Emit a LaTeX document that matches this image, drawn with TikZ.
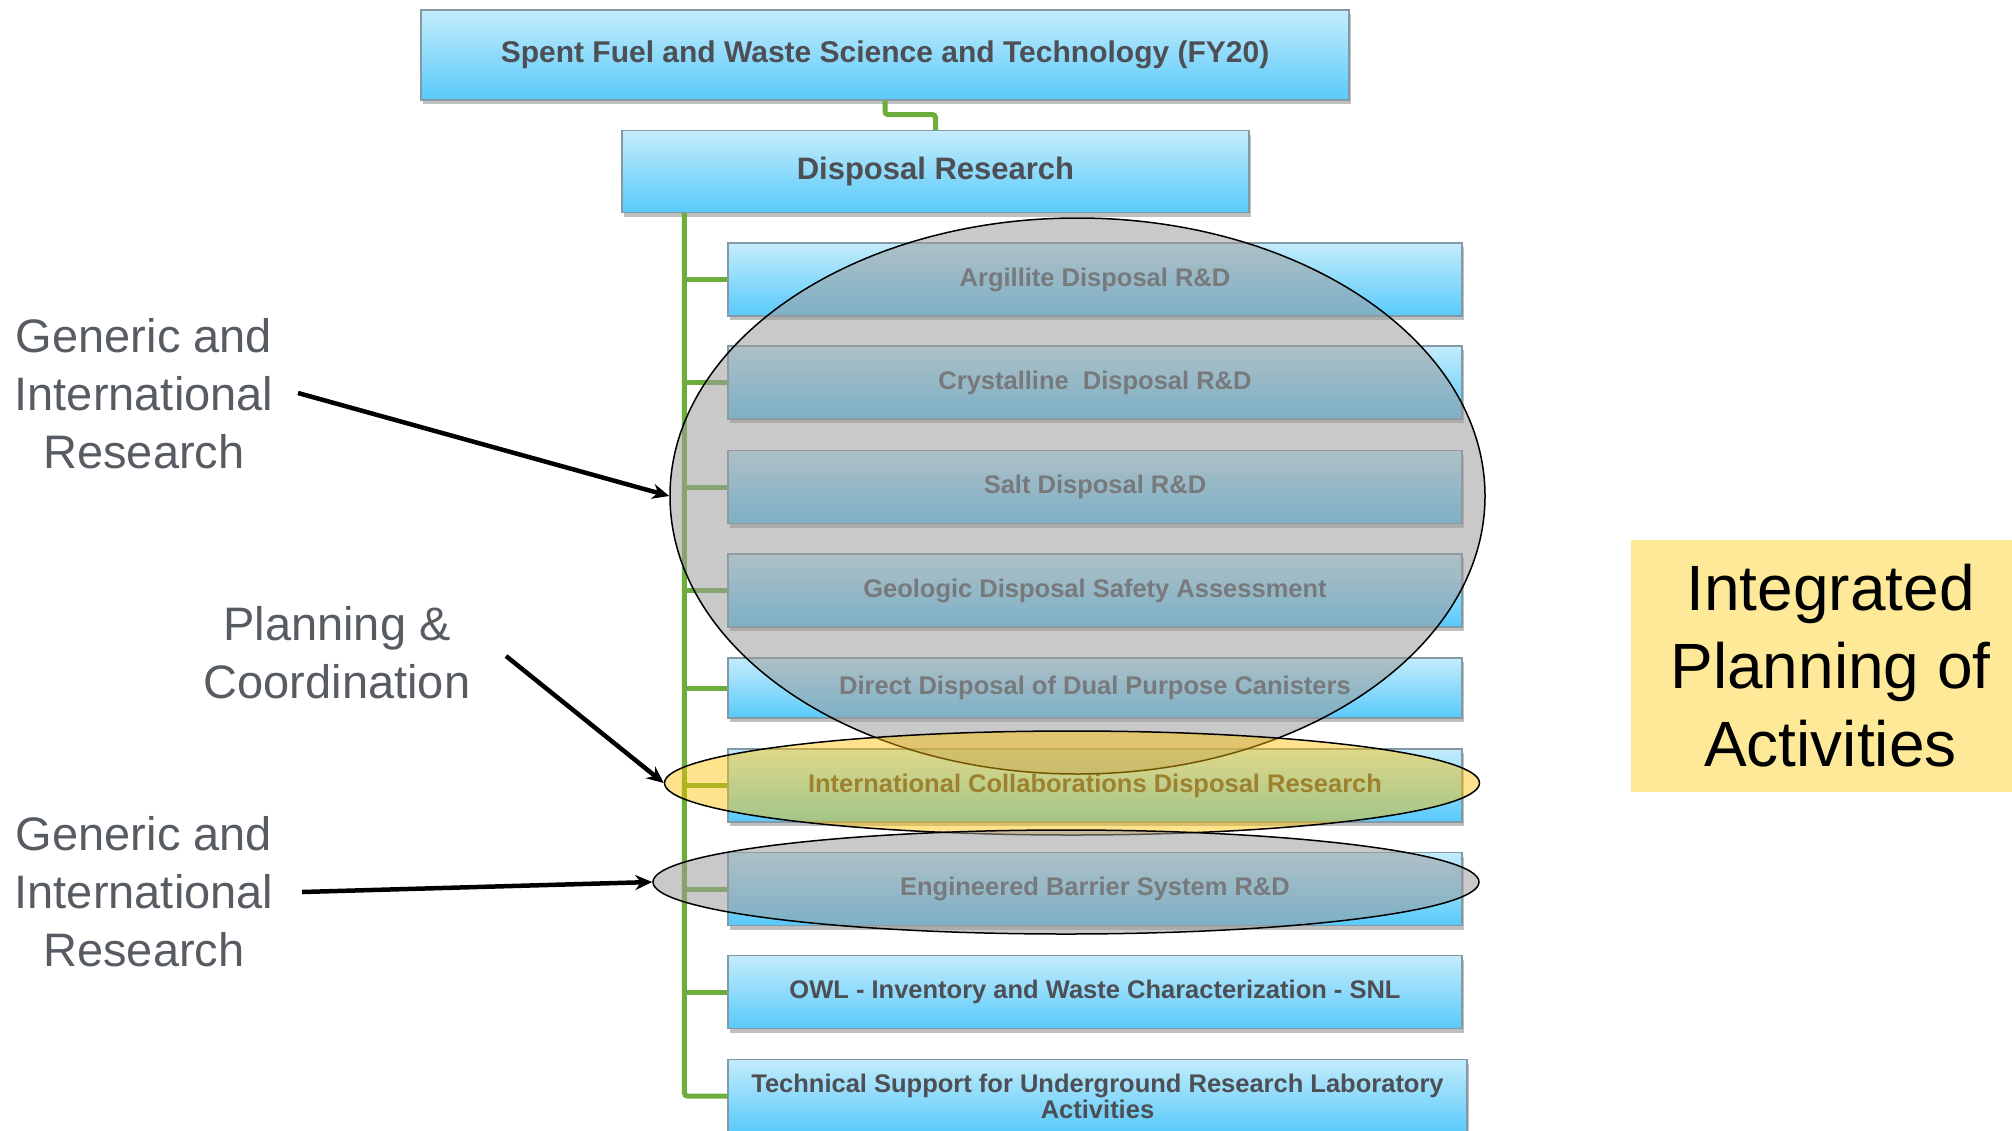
\documentclass[tikz,border=0pt]{standalone}
\usepackage{fontspec}
\setmainfont{Liberation Sans}
\usetikzlibrary{positioning,shapes.geometric,shadows,arrows.meta}
\definecolor{boxtop}{HTML}{C4ECFB}
\definecolor{boxbottom}{HTML}{58CAFB}
\definecolor{boxline}{HTML}{8499A6}
\definecolor{boxtext}{HTML}{4E4F55}
\definecolor{treegreen}{HTML}{6CAD3C}
\definecolor{labelgray}{HTML}{575C63}
\definecolor{notefill}{HTML}{FEE999}
\definecolor{ringgray}{HTML}{9C9C9C}
\definecolor{ringyellow}{HTML}{FFC000}

\begin{document}
\begin{tikzpicture}[x=1pt,y=-1pt]
  \tikzstyle{box}=[rectangle, top color=boxtop, bottom color=boxbottom, draw=boxline,
line width=1.2pt, text=boxtext, inner sep=0pt, font=\bfseries\fontsize{25.5}{26}\selectfont,
drop shadow={shadow xshift=2pt, shadow yshift=-4pt, opacity=0.25, fill=black}]
  \tikzstyle{child}=[box, minimum width=734, minimum height=73]
  \tikzstyle{link}=[treegreen, line width=5pt, rounded corners=3pt]
  \tikzstyle{ring}=[ellipse, draw=black, line width=1.5pt, fill=ringgray, fill opacity=0.55, inner sep=0pt]
  \tikzstyle{note}=[text=labelgray, align=center, font=\fontsize{47}{58}\selectfont]
  \tikzstyle{pointer}=[line width=4.5pt, -{Stealth[length=17pt,width=15pt]}]

  \useasboundingbox (0,0) rectangle (2012,1130);

  \node[box, minimum width=928, minimum height=90, font=\bfseries\fontsize{30}{36}\selectfont] (SF) at (885,55) {Spent Fuel and Waste Science and Technology (FY20)};
  \node[box, minimum width=627, minimum height=82, font=\bfseries\fontsize{31}{36}\selectfont] (DR) at (935.5,171.5) {Disposal Research};

  \node[child] (C_1) at (1095,279.5) {Argillite Disposal R\&D};
  \node[child] (C_2) at (1095,382.5) {Crystalline\ \ Disposal R\&D};
  \node[child] (C_3) at (1095,487) {Salt Disposal R\&D};
  \node[child] (C_4) at (1095,590.5) {Geologic Disposal Safety Assessment};
  \node[child, minimum height=60] (C_5) at (1095,688) {Direct Disposal of Dual Purpose Canisters};
  \node[child] (C_6) at (1095,785.5) {International Collaborations Disposal Research};
  \node[child] (C_7) at (1095,889) {Engineered Barrier System R\&D};
  \node[child] (C_8) at (1095,992) {OWL - Inventory and Waste Characterization - SNL};
  \node[child, minimum width=739, align=center] (C_9) at (1097.5,1096) {Technical Support for Underground Research Laboratory\\Activities};

  \coordinate (T) at ([xshift=63]DR.south west);
  \draw[link] (SF.south) -- ++(0,14) -| (DR.north);
  \draw[link] (T) |- (C_9.west);
  \foreach \i in {1,...,8}
    \draw[link] (C_\i.west -| T) -- (C_\i.west);

  \node[ring, minimum width=815, minimum height=556] (R_1) at (1077.5,496) {};
  \node[ring, fill=ringyellow, fill opacity=0.45, minimum width=815, minimum height=104] (R_2) at (1072,783) {};
  \node[ring, minimum width=826, minimum height=104] (R_3) at (1066,882) {};

  \node[note] (L_1) at (144,394) {Generic and\\International\\Research};
  \node[note] (L_2) at (337,653) {Planning \&\\Coordination};
  \node[note] (L_3) at (144,892) {Generic and\\International\\Research};

  \coordinate (P_1) at (298,393);
  \coordinate (P_2) at (506,656);
  \coordinate (P_3) at (302,892);
  \draw[pointer] (P_1) -- (R_1.west);
  \draw[pointer] (P_2) -- (R_2.west);
  \draw[pointer] (P_3) -- (R_3.west);

  \node[fill=notefill, minimum width=399, minimum height=252, align=center,
font=\fontsize{64}{78}\selectfont] (IP) at (1830.5,666) {Integrated\\Planning of\\Activities};
\end{tikzpicture}
\end{document}
